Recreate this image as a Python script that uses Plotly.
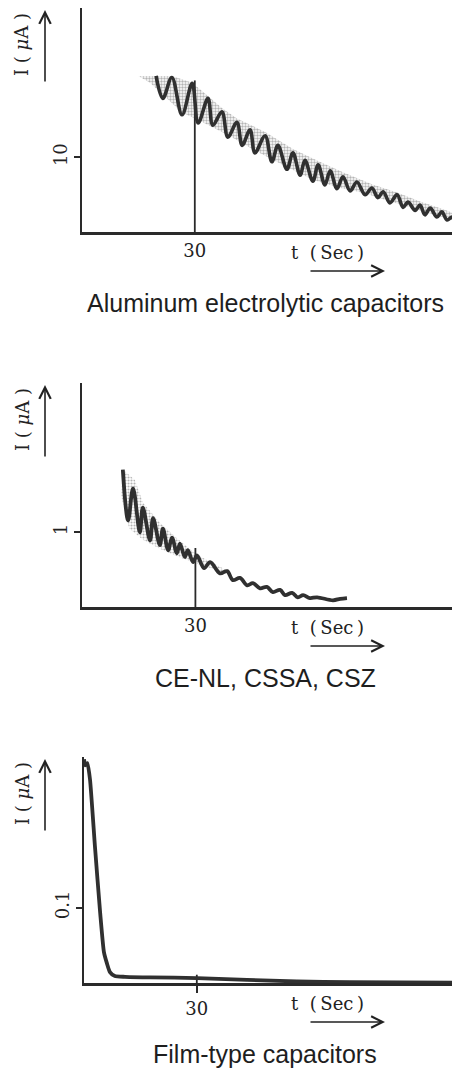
import plotly.graph_objects as go

W, H = 460, 1071
OFF = 8  # page body margin

# ---------------- data ----------------
# Panel 1: Aluminum electrolytic capacitors (alternating peaks / troughs)
al_t = [19.7, 21.5, 23.9, 26.6, 29.3, 30.9, 33.5, 34.8, 37.2, 38.8, 41.2, 42.6, 44.7, 46.0,
        48.7, 50.5, 52.1, 54.5, 56.1, 58.0, 59.3, 61.4, 62.8, 64.6, 66.0, 67.8, 69.4, 71.3,
        73.1, 75.3, 77.1, 78.7, 80.1, 81.9, 83.8, 85.4, 86.7, 88.6, 89.9, 91.2, 92.6, 94.4,
        95.7, 97.1, 98.4, 99.2]
al_i = [20.9, 17.9, 20.7, 15.7, 19.9, 14.6, 17.9, 14.3, 16.1, 12.7, 14.7, 11.6, 13.7, 10.6,
        12.9, 9.4, 11.6, 8.4, 10.6, 7.6, 9.6, 6.8, 9.0, 6.3, 8.2, 5.8, 7.4, 5.5,
        6.7, 5.0, 5.9, 4.6, 5.4, 3.9, 5.0, 3.3, 4.0, 2.9, 3.6, 2.3, 3.2, 2.0,
        2.7, 1.6, 2.0, 1.2]
al_band_top_t = [15.0, 24.0, 29.3, 33.5, 37.2, 41.2, 48.7, 56.1, 62.8, 69.4, 77.1, 83.8, 89.9, 95.7, 99.7]
al_band_top_i = [20.9, 20.9, 20.0, 18.2, 16.6, 15.2, 13.4, 11.1, 9.5, 8.0, 6.4, 5.3, 4.1, 3.1, 2.4]
al_band_bot_t = [18.1, 26.6, 30.9, 38.8, 46.0, 54.5, 61.4, 67.8, 75.3, 81.9, 88.6, 94.4, 99.7]
al_band_bot_i = [20.0, 16.0, 15.0, 13.0, 10.9, 8.7, 7.0, 6.0, 5.2, 4.1, 3.1, 2.2, 1.4]
al_guide_t = [30, 30]
al_guide_i = [0, 20.3]

# Panel 2: CE-NL, CSSA, CSZ
ce_t = [10.8, 12.2, 13.5, 15.3, 16.1, 18.0, 18.8, 20.6, 21.4, 22.8, 23.8, 25.1, 25.9, 27.2,
        28.0, 29.4, 30.4, 32.3, 33.9, 36.5, 38.4, 39.9, 41.8, 43.7, 45.2, 47.1, 48.9, 50.5,
        52.4, 53.7, 55.6, 57.1, 58.5, 60.3, 62.2, 66.4, 68.3, 70.1]
ce_i = [1.84, 1.16, 1.59, 1.00, 1.33, 0.89, 1.19, 0.83, 1.05, 0.76, 0.93, 0.72, 0.85, 0.67,
        0.76, 0.60, 0.69, 0.52, 0.60, 0.45, 0.48, 0.36, 0.39, 0.29, 0.32, 0.25, 0.27, 0.20,
        0.23, 0.16, 0.19, 0.13, 0.16, 0.12, 0.13, 0.09, 0.11, 0.12]
ce_band_top_t = [10.8, 14.0, 16.1, 20.6, 25.1, 30.4, 38.0]
ce_band_top_i = [1.84, 1.70, 1.40, 1.13, 0.92, 0.70, 0.50]
ce_band_bot_t = [10.3, 12.5, 16.1, 20.6, 25.1, 30.4, 38.0]
ce_band_bot_i = [1.50, 1.05, 0.90, 0.78, 0.68, 0.58, 0.46]
ce_guide_t = [30, 30]
ce_guide_i = [0, 0.79]

# Panel 3: Film-type capacitors
fm_t = [0, 0.35, 0.9, 1.6, 2.9, 4.3, 5.3, 6.1, 6.9, 8.2, 10.9, 17.6, 30.1, 56.6, 70.7, 100]
fm_i = [0.297, 0.289, 0.292, 0.270, 0.182, 0.093, 0.041, 0.026, 0.0145, 0.0092, 0.0082,
        0.0075, 0.0065, 0.002, 0.001, 0.0005]
fm_guide_t = [30, 30]
fm_guide_i = [0, 0.011]

panels = [
    dict(ytick=[10], ytext=["10"], yrange=[0, 30], caption="Aluminum electrolytic capacitors"),
    dict(ytick=[1], ytext=["1"], yrange=[0, 3], caption="CE-NL, CSSA, CSZ"),
    dict(ytick=[0.1], ytext=["0.1"], yrange=[0, 0.3], caption="Film-type capacitors"),
]
x_ticks = [30]
x_text = ["30"]

# ---------------- styling / layout ----------------
INK = "#303030"
AX = "#2a2a2a"
SERIF = "DejaVu Serif"
SANS = "Liberation Sans, Arial, sans-serif"

FW, FH = W - OFF, H - OFF


def px(x):
    return (x - OFF) / FW


def py(y):
    return 1 - (y - OFF) / FH


# pixel geometry of the three panels (window coords): (left, right, top, bottom)
geo = [(82, 458, 8, 232), (82, 460, 383, 607), (84, 460, 757, 983)]

fig = go.Figure()

stipple = dict(shape=".", fgcolor="#6a6a6a", bgcolor="rgba(0,0,0,0)", size=3, solidity=0.5)
stipple2 = dict(stipple, solidity=0.4)

# panel 1 traces
fig.add_trace(go.Scatter(x=al_band_top_t + al_band_bot_t[::-1], y=al_band_top_i + al_band_bot_i[::-1],
                         fill="toself", mode="none", fillcolor="rgba(0,0,0,0)", fillpattern=stipple,
                         xaxis="x", yaxis="y", hoverinfo="skip"))
fig.add_trace(go.Scatter(x=al_guide_t, y=al_guide_i, mode="lines", line=dict(color=AX, width=1.8),
                         xaxis="x", yaxis="y"))
fig.add_trace(go.Scatter(x=al_t, y=al_i, mode="lines",
                         line=dict(color=INK, width=3.6, shape="spline", smoothing=1.0),
                         xaxis="x", yaxis="y"))

# panel 2 traces
fig.add_trace(go.Scatter(x=ce_band_top_t + ce_band_bot_t[::-1], y=ce_band_top_i + ce_band_bot_i[::-1],
                         fill="toself", mode="none", fillcolor="rgba(0,0,0,0)", fillpattern=stipple2,
                         xaxis="x2", yaxis="y2", hoverinfo="skip"))
fig.add_trace(go.Scatter(x=ce_guide_t, y=ce_guide_i, mode="lines", line=dict(color=AX, width=1.8),
                         xaxis="x2", yaxis="y2"))
fig.add_trace(go.Scatter(x=ce_t, y=ce_i, mode="lines",
                         line=dict(color=INK, width=3.8, shape="spline", smoothing=1.0),
                         xaxis="x2", yaxis="y2"))

# panel 3 traces
fig.add_trace(go.Scatter(x=fm_guide_t, y=fm_guide_i, mode="lines", line=dict(color=AX, width=1.8),
                         xaxis="x3", yaxis="y3"))
fig.add_trace(go.Scatter(x=fm_t, y=fm_i, mode="lines",
                         line=dict(color=INK, width=3.8, shape="spline", smoothing=0.5),
                         xaxis="x3", yaxis="y3"))

layout = dict(
    width=FW, height=FH, margin=dict(l=0, r=0, t=0, b=0),
    paper_bgcolor="white", plot_bgcolor="white", showlegend=False,
)
annotations = []
for k, (p, g) in enumerate(zip(panels, geo)):
    sfx = "" if k == 0 else str(k + 1)
    l, r, t, b = g
    layout["xaxis" + sfx] = dict(
        domain=[px(l), min(1.0, px(r))], range=[0, 100], anchor="y" + sfx,
        showgrid=False, zeroline=False, showline=True, linecolor=AX, linewidth=3,
        ticks="outside" if k == 2 else "", ticklen=7, tickwidth=1.8, tickcolor=AX,
        tickvals=x_ticks, ticktext=x_text, tickfont=dict(family=SERIF, size=18, color="#222"),
        fixedrange=True,
    )
    layout["yaxis" + sfx] = dict(
        domain=[py(b), min(1.0, py(t))], range=p["yrange"], anchor="x" + sfx,
        showgrid=False, zeroline=False, showline=True, linecolor=AX, linewidth=2.4,
        ticks="outside", ticklen=6, tickwidth=1.5, tickcolor=AX,
        tickvals=p["ytick"], ticktext=p["ytext"], tickangle=-90,
        tickfont=dict(family=SERIF, size=18, color="#222"), fixedrange=True,
    )
    # y title and arrow
    annotations.append(dict(x=px(22), y=py(t + 37), xref="paper", yref="paper", showarrow=False,
                            xanchor="center", yanchor="middle",
                            text="I ( <i>μ</i>A )", textangle=-90,
                            font=dict(family=SERIF, size=18, color="#222")))
    annotations.append(dict(x=px(45), y=py(t + 2), xref="paper", yref="paper", text="",
                            showarrow=True, ax=0, ay=73, arrowhead=5, arrowsize=1.4, arrowwidth=1.6,
                            arrowcolor="#222"))
    # x title and arrow
    annotations.append(dict(x=px(327), y=py(b + 20), xref="paper", yref="paper", showarrow=False,
                            xanchor="center", yanchor="middle",
                            text="t\u00a0\u00a0(\u2009Sec\u2009)",
                            font=dict(family=SERIF, size=18, color="#222")))
    annotations.append(dict(x=px(385), y=py(b + 39), xref="paper", yref="paper", text="",
                            showarrow=True, ax=-76, ay=0, arrowhead=5, arrowsize=1.4, arrowwidth=1.6,
                            arrowcolor="#222"))
    # caption
    annotations.append(dict(x=px(265), y=py(b + 71), xref="paper", yref="paper", showarrow=False,
                            xanchor="center", yanchor="middle",
                            text=p["caption"], font=dict(family=SANS, size=25, color="#1e1e1e")))

layout["annotations"] = annotations
fig.update_layout(**layout)

fig.write_html("out.html")
